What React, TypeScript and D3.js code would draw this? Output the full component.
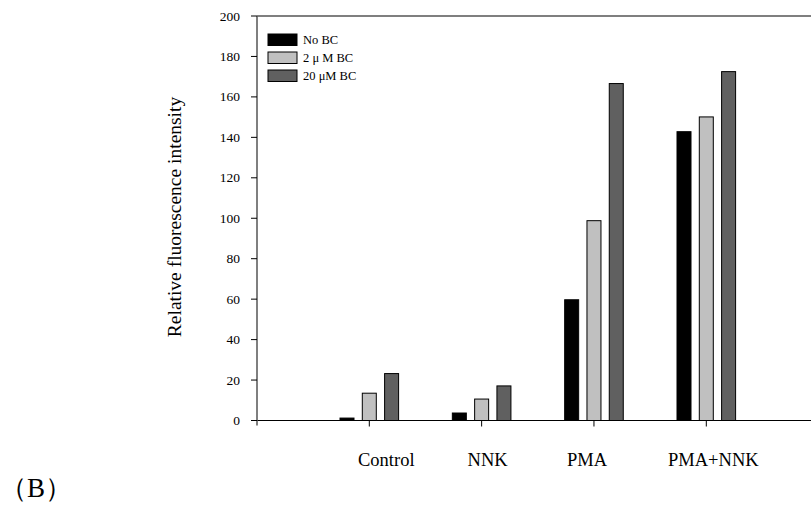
import React from 'react';
import * as d3 from 'd3';

// data
const categories = ['Control', 'NNK', 'PMA', 'PMA+NNK'];
const seriesNames = ['No BC', '2 \u03bc M BC', '20 \u03bcM BC'];
const noBC = [1.2, 3.7, 59.7, 142.8];
const bc2 = [13.5, 10.6, 98.8, 150.1];
const bc20 = [23.2, 17.1, 166.6, 172.5];
const yTicks = [0, 20, 40, 60, 80, 100, 120, 140, 160, 180, 200];

const seriesValues = [noBC, bc2, bc20];
const fills = ['#000000', '#c0c0c0', '#606060'];
// the category labels were placed by hand in the original, slightly off the ticks
const labelNudge = [17, 6, -7, 7];

const W = 811;
const H = 507;
const FONT = '"Liberation Serif", "Times New Roman", serif';

const App = () => {
  const left = 257;
  const top = 16;
  const bottom = 420.5;

  const y = d3.scaleLinear().domain([0, 200]).range([bottom, top]);
  const x = d3.scalePoint<string>().domain(categories).range([369.3, 706.3]);
  const sub = d3.scalePoint<string>().domain(seriesNames).range([-22.3, 22.3]);
  const barW = 14;

  return (
    <svg width={W} height={H} style={{ position: 'absolute', left: 0, top: 0 }}>
      <rect width={W} height={H} fill="#fff" />

      {/* frame: top line, x axis, y axis */}
      <line x1={left} x2={W} y1={top} y2={top} stroke="#000" strokeWidth={1.2} />
      <line x1={left} x2={W} y1={bottom} y2={bottom} stroke="#000" strokeWidth={1.2} />
      <line x1={left} x2={left} y1={top} y2={bottom + 5} stroke="#555" strokeWidth={1.5} />

      {/* y ticks */}
      {yTicks.map(t => (
        <g key={t} transform={`translate(0,${y(t)})`}>
          <line x1={left - 6} x2={left} stroke="#000" strokeWidth={1} />
          <text x={left - 17} dy="0.34em" textAnchor="end" fontFamily={FONT} fontSize={13.5}>
            {t}
          </text>
        </g>
      ))}

      {/* bars */}
      {seriesValues.map((vals, si) =>
        vals.map((v, ci) => (
          <rect
            key={`${si}-${ci}`}
            x={x(categories[ci])! + sub(seriesNames[si])! - barW / 2}
            y={y(v)}
            width={barW}
            height={y(0) - y(v)}
            fill={fills[si]}
            stroke="#000"
            strokeWidth={1}
          />
        ))
      )}

      {/* x ticks and labels */}
      {categories.map((c, i) => (
        <g key={c}>
          <line x1={x(c)} x2={x(c)} y1={bottom} y2={bottom + 6} stroke="#000" strokeWidth={1} />
          <text
            x={x(c)! + labelNudge[i]}
            y={466}
            textAnchor="middle"
            fontFamily={FONT}
            fontSize={18.5}
          >
            {c}
          </text>
        </g>
      ))}

      {/* y axis title */}
      <text
        transform={`translate(181,217) rotate(-90)`}
        textAnchor="middle"
        fontFamily={FONT}
        fontSize={19.5}
      >
        Relative fluorescence intensity
      </text>

      {/* legend */}
      {seriesNames.map((s, i) => (
        <g key={s} transform={`translate(268,${34 + i * 18})`}>
          <rect width={29} height={11.5} fill={fills[i]} stroke="#000" strokeWidth={1} />
          <text x={35} y={10} fontFamily={FONT} fontSize={12.5}>
            {s}
          </text>
        </g>
      ))}

      <text x={0} y={497} fontFamily={FONT} fontSize={27}>
        {'\uff08B\uff09'}
      </text>
    </svg>
  );
};

export default App;
